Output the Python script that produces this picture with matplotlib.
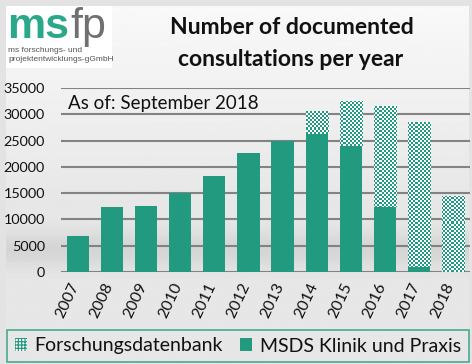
import matplotlib
matplotlib.use('Agg')
import matplotlib.pyplot as plt
import matplotlib.transforms as mtransforms
import numpy as np
from matplotlib.patches import Rectangle
from matplotlib.colors import to_rgb

plt.rcParams['font.family'] = ['Lato', 'DejaVu Sans']
plt.rcParams['hatch.linewidth'] = 0.9

# data
years = ['2007', '2008', '2009', '2010', '2011', '2012', '2013',
         '2014', '2015', '2016', '2017', '2018']
msds = [6900, 12400, 12600, 15000, 18300, 22600, 24900,
        26200, 24000, 12400, 1000, 0]
forschung = [0, 0, 0, 0, 0, 0, 0,
             4400, 8500, 19200, 27500, 14500]
yticks = [0, 5000, 10000, 15000, 20000, 25000, 30000, 35000]

GREEN = '#219a7f'
GRID = '#838383'
W, H = 472, 364

fig = plt.figure(figsize=(W / 100, H / 100), dpi=100, facecolor='#e3e3e3')

# background panel: light gradient with a soft grey band near the floor
bg = fig.add_axes([6 / W, 0, 1 - 9 / W, 1 - 6 / H], zorder=0)
yy = np.linspace(0, 1, 400)  # 0 = top, 1 = bottom of panel
base = 0.975 - 0.07 * np.clip(yy / 0.55, 0, 1)
band = 0.07 * np.exp(-((yy - 0.68) / 0.05) ** 2)
col = base - band
col = np.where(yy > 0.76, 0.905, col)
img = np.repeat(col[:, None], 2, axis=1)
bg.imshow(img, cmap='gray', vmin=0, vmax=1, aspect='auto', extent=[0, 1, 1, 0])
bg.set_axis_off()

ax = fig.add_axes([61 / W, 1 - 272 / H, 409 / W, 184 / H], zorder=2)
ax.set_facecolor('none')
x = np.arange(len(years))
ax.bar(x, msds, width=0.65, color=GREEN, linewidth=0, zorder=3,
       label='MSDS Klinik und Praxis')
top = ax.bar(x, forschung, width=0.65, bottom=msds, facecolor='white',
             edgecolor=GREEN, hatch='+++++', linewidth=0, zorder=3,
             label='Forschungsdatenbank')

# fine checker texture, clipped to the hatched bars
ny, nx = 184, 409
ii, jj = np.mgrid[0:ny, 0:nx]
mask = ((ii // 2) + (jj // 2)) % 2 == 0
tex = np.ones((ny, nx, 3))
tex[mask] = to_rgb(GREEN)
for p in top.patches:
    if p.get_height() <= 0:
        continue
    im = ax.imshow(tex, extent=[-0.5, len(years) - 0.5, 0, 35000],
                   aspect='auto', interpolation='none', zorder=4)
    im.set_clip_path(p)
ax.set_xlim(-0.5, len(years) - 0.5)
ax.set_ylim(0, 35000)

ax.set_yticks(yticks)
ax.set_yticklabels([str(v) for v in yticks], fontsize=10.4, color='#111111')
ax.set_xticks(x)
ax.set_xticklabels(years, rotation=65, fontsize=11.5, color='#111111',
                   ha='right', va='top')
ax.tick_params(axis='y', length=0, pad=11.5)
ax.tick_params(axis='x', length=0, pad=6)
shift = mtransforms.ScaledTranslation(4 / 100, 0, fig.dpi_scale_trans)
for lab in ax.get_xticklabels():
    lab.set_transform(lab.get_transform() + shift)
for v in yticks:
    ax.axhline(v, color=GRID, linewidth=1.5, zorder=1)
for s in ax.spines.values():
    s.set_visible(False)

ax.text(0.016, 0.915, 'As of: September 2018', transform=ax.transAxes,
        fontsize=13.5, color='#111111', va='center', ha='left')

# title
fig.text(292 / W, 1 - 28 / H, 'Number of documented', fontsize=16.5,
         fontweight='bold', ha='center', va='center', color='#111111')
fig.text(291 / W, 1 - 59 / H, 'consultations per year', fontsize=16.5,
         fontweight='bold', ha='center', va='center', color='#111111')

# logo
fig.patches.append(Rectangle((6 / W, 1 - 68 / H), 106 / W, 62 / H,
                             transform=fig.transFigure, facecolor='white',
                             edgecolor='none', zorder=1))
logo = ['Liberation Sans', 'DejaVu Sans']
ms = fig.text(7 / W, 1 - 38 / H, 'ms', fontsize=31, fontweight='bold',
              color='#2aa889', family=logo, ha='left', va='baseline', zorder=3)
renderer = fig.canvas.get_renderer()
ms_end = ms.get_window_extent(renderer).x1
fig.text((ms_end + 1) / W, 1 - 38 / H, 'fp', fontsize=31, color='#707070',
         family=logo, ha='left', va='baseline', zorder=3)
fig.text(8 / W, 1 - 52 / H, 'ms forschungs- und', fontsize=6, color='#555555',
         family=logo, ha='left', va='baseline', zorder=3)
fig.text(8 / W, 1 - 61 / H, 'projektentwicklungs-gGmbH', fontsize=6,
         color='#555555', family=logo, ha='left', va='baseline', zorder=3)

# legend
h, l = ax.get_legend_handles_labels()
leg = fig.legend(h[::-1], l[::-1], loc='center', ncol=2,
                 bbox_to_anchor=(238 / W, 1 - 346 / H), fontsize=14,
                 frameon=True, fancybox=False, handlelength=0.6,
                 handleheight=0.6, handletextpad=0.4, columnspacing=0.9,
                 borderpad=0.4, borderaxespad=0)
leg.get_frame().set_edgecolor(GREEN)
leg.get_frame().set_facecolor('none')
leg.get_frame().set_linewidth(1.2)
for t in leg.get_texts():
    t.set_color('#111111')

fig.savefig('out.png', dpi=100, facecolor=fig.get_facecolor())
